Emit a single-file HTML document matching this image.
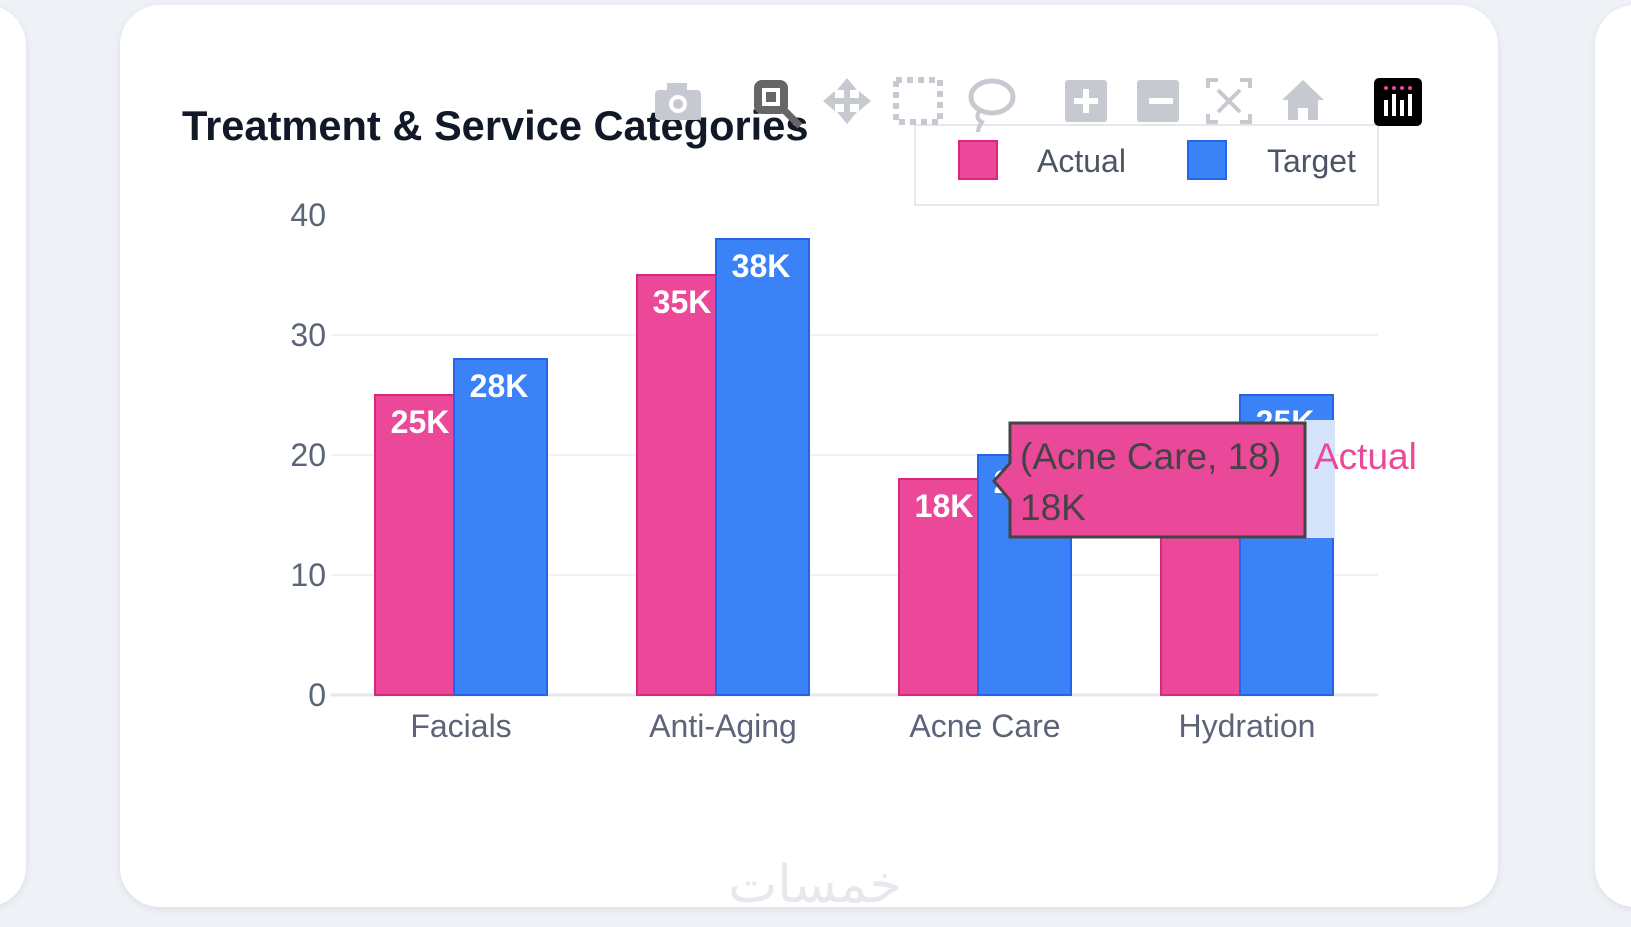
<!DOCTYPE html>
<html><head><meta charset="utf-8"><style>
body{margin:0;width:1631px;height:927px;background:#eef1f6;overflow:hidden;font-family:"Liberation Sans",sans-serif;position:relative}
.card{position:absolute;background:#fff;border-radius:40px;box-shadow:0 2px 8px rgba(0,0,0,.08)}
</style></head><body>
<div class="card" style="left:-60px;top:5px;width:86px;height:902px"></div>
<div class="card" style="left:1595px;top:5px;width:100px;height:902px"></div>
<div class="card" style="left:120px;top:5px;width:1378px;height:902px"></div>
<svg id="chart" width="1631" height="927" style="position:absolute;left:0;top:0" font-family="Liberation Sans, sans-serif">
<text x="182" y="140" font-size="41.6" font-weight="bold" fill="#111827">Treatment &amp; Service Categories</text>
<g id="grid"></g><g id="bars"></g>
<g>
<rect x="915" y="125" width="463" height="80" fill="#fff" stroke="#e5e7eb" stroke-width="2"/>
<rect x="959" y="141" width="38" height="38" fill="#ec4899" stroke="#db2777" stroke-width="2"/>
<text x="1037" y="172" font-size="32" fill="#4b5563">Actual</text>
<rect x="1188" y="141" width="38" height="38" fill="#3b82f6" stroke="#2563eb" stroke-width="2"/>
<text x="1267" y="172" font-size="32" fill="#4b5563">Target</text>
</g>
<g fill="#c6c9cf">
<g><rect x="655" y="90" width="46" height="30" rx="4"/><rect x="667" y="83" width="20" height="10"/><circle cx="678" cy="104" r="9" fill="#fff"/><circle cx="678" cy="104" r="5"/></g>
<g><rect x="754" y="80" width="34" height="34" rx="8" fill="#666"/><rect x="762" y="88" width="18" height="18" fill="#fff"/><rect x="766" y="92" width="10" height="10" fill="#666"/><path d="M784 110 L800 126" stroke="#666" stroke-width="7"/></g>
<g><path d="M847 78 L837 90 H844 V98 H835 V91 L823 101 L835 111 V104 H844 V112 H837 L847 124 L857 112 H850 V104 H859 V111 L871 101 L859 91 V98 H850 V90 H857 Z"/></g>
<g><rect x="896" y="80" width="44" height="42" fill="none" stroke="#c6c9cf" stroke-width="6" stroke-dasharray="6 5"/></g>
<g><ellipse cx="992" cy="97" rx="21" ry="16" fill="none" stroke="#c6c9cf" stroke-width="5"/><path d="M980 110 q-6 8 2 12 q-4 6 -4 10" fill="none" stroke="#c6c9cf" stroke-width="4"/></g>
<g><rect x="1065" y="80" width="42" height="42" rx="3"/><path d="M1086 89v24M1074 101h24" stroke="#fff" stroke-width="6"/></g>
<g><rect x="1137" y="80" width="42" height="42" rx="3"/><path d="M1125 101h24" stroke="#fff" stroke-width="6" transform="translate(24 0)"/></g>
<g fill="none" stroke="#c6c9cf" stroke-width="4"><path d="M1208 88v-8h10M1240 80h10v8M1250 114v8h-10M1218 122h-10v-8"/><path d="M1218 90l22 22M1240 90l-22 22"/></g>
<g><path d="M1303 80 L1282 100 H1288 V120 H1298 V108 H1308 V120 H1318 V100 H1324 Z"/></g>
<g><rect x="1374" y="78" width="48" height="48" rx="5" fill="#000"/><g fill="#fff"><rect x="1384" y="100" width="4" height="16"/><rect x="1392" y="94" width="4" height="22"/><rect x="1400" y="100" width="4" height="16"/><rect x="1408" y="94" width="4" height="22"/></g><g fill="#e8489a"><circle cx="1386" cy="88" r="2"/><circle cx="1394" cy="88" r="2"/><circle cx="1402" cy="88" r="2"/><circle cx="1410" cy="88" r="2"/></g></g>
</g>
<g>
<rect x="1305" y="420" width="30" height="118" fill="#d6e4fb"/>
<path d="M1010 423 H1305 V537 H1010 V500 L994 481 L1010 463 Z" fill="#ea4899" stroke="#444" stroke-width="3"/>
<text x="1020" y="469" font-size="37" fill="#444">(Acne Care, 18)</text>
<text x="1020" y="520" font-size="37" fill="#444">18K</text>
<text x="1314" y="469" font-size="37" fill="#ec4899">Actual</text>
</g>
<text x="815" y="902" font-size="52" fill="#e6e8ec" text-anchor="middle" font-family="Liberation Sans, DejaVu Sans, sans-serif">خمسات</text>
</svg>
<script>
const categories=["Facials","Anti-Aging","Acne Care","Hydration"];
const actualValues=[25,35,18,22];
const targetValues=[28,38,20,25];
const yTicks=[0,10,20,30,40];
const NS="http://www.w3.org/2000/svg";
const y=v=>695-v*12;
const xc=i=>461+i*262;
function mk(tag,attrs,parent,txt){const e=document.createElementNS(NS,tag);for(const k in attrs)e.setAttribute(k,attrs[k]);if(txt!==undefined)e.textContent=txt;parent.appendChild(e);return e;}
const grid=document.getElementById('grid'),bars=document.getElementById('bars');
yTicks.forEach((t,k)=>{
  if(k<yTicks.length-1){
    const l=mk('line',{x1:331,x2:1378,y1:y(t),y2:y(t),stroke:t===0?'#e5e7eb':'#f0f2f5','stroke-width':t===0?3:2},grid);
    
    
  }
  const tx=mk('text',{x:326,y:y(t)+11,'font-size':32,fill:'#5b6478','text-anchor':'end'},grid,String(t));
  
  
});
categories.forEach((c,i)=>{
  const cx=xc(i);
  const a=actualValues[i],b=targetValues[i];
  const ra=mk('rect',{x:cx-86,y:y(a),width:86,height:y(0)-y(a),fill:'#ec4899',stroke:'#db2777','stroke-width':2},bars);
  
  
  const la=mk('text',{x:cx-41,y:y(a)+38,'font-size':32,'font-weight':'bold',fill:'#fff','text-anchor':'middle'},bars,a+'K');
  
  
  const rb=mk('rect',{x:cx-7,y:y(b),width:93,height:y(0)-y(b),fill:'#3b82f6',stroke:'#2563eb','stroke-width':2},bars);
  
  
  const lb=mk('text',{x:cx+38,y:y(b)+38,'font-size':32,'font-weight':'bold',fill:'#fff','text-anchor':'middle'},bars,b+'K');
  
  
  const xl=mk('text',{x:cx,y:737,'font-size':32,fill:'#5b6478','text-anchor':'middle'},bars,c);
  
  
});
</script>
</body></html>
